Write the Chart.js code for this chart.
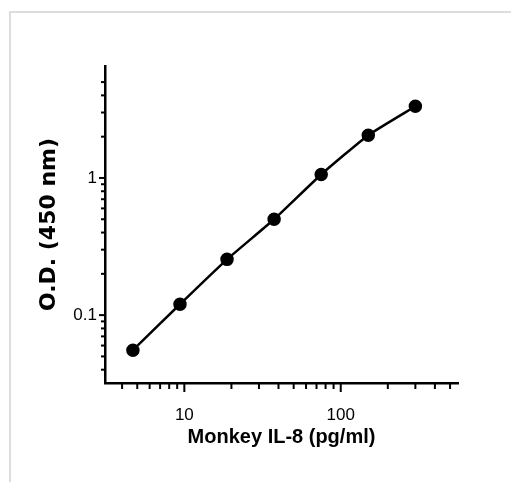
<!DOCTYPE html>
<html>
<head>
  <title>Monkey IL-8 standard curve</title>
  <script src="https://cdn.jsdelivr.net/npm/chart.js"></script>
  <style>
    html, body { margin: 0; padding: 0; background: #fff; overflow: hidden; }
    .frame {
      position: absolute; left: 9px; top: 11px; width: 520px; height: 490px;
      border-top: 2px solid #dddddd; border-left: 2px solid #dddddd;
    }
    #curve { position: absolute; left: 0; top: 0; }
  </style>
</head>
<body>
  <div class="frame"></div>
  <canvas id="curve" width="511" height="482"></canvas>

  <script>
    // standard curve
    const concentrations = [4.69, 9.38, 18.75, 37.5, 75, 150, 300];
    const odValues = [0.0555, 0.120, 0.255, 0.50, 1.06, 2.05, 3.33];

    // log axis tick marks, labelled ones are kept separately
    const xTicks = [4, 5, 6, 7, 8, 9, 10, 20, 30, 40, 50, 60, 70, 80, 90, 100, 200, 300, 400, 500];
    const xLabels = [10, 100];
    const yTicks = [0.04, 0.05, 0.06, 0.07, 0.08, 0.09, 0.1, 0.2, 0.3, 0.4, 0.5, 0.6, 0.7, 0.8, 0.9, 1, 2, 3, 4, 5];
    const yLabels = [0.1, 1];

    const narrow = '"Liberation Sans Narrow", "Arial Narrow", "Liberation Sans", sans-serif';

    // short ticks everywhere, slightly longer at the labelled decades
    const tickMarks = {
      id: 'tickMarks',
      afterDraw(chart) {
        const c = chart.ctx, area = chart.chartArea;
        c.save();
        c.strokeStyle = '#000';
        c.lineWidth = 2;
        chart.scales.x.ticks.forEach(t => {
          const px = chart.scales.x.getPixelForValue(t.value);
          const len = xLabels.includes(t.value) ? 9 : 6;
          c.beginPath();
          c.moveTo(px, area.bottom);
          c.lineTo(px, area.bottom + len);
          c.stroke();
        });
        chart.scales.y.ticks.forEach(t => {
          const py = chart.scales.y.getPixelForValue(t.value);
          const len = yLabels.includes(t.value) ? 6 : 4;
          c.beginPath();
          c.moveTo(area.left, py);
          c.lineTo(area.left - len, py);
          c.stroke();
        });
        c.restore();
      }
    };

    new Chart(document.getElementById('curve').getContext('2d'), {
      type: 'line',
      data: {
        datasets: [{
          data: concentrations.map((x, i) => ({ x: x, y: odValues[i] })),
          borderColor: '#000',
          backgroundColor: '#000',
          borderWidth: 2.5,
          pointRadius: 5.5,
          pointHoverRadius: 5.5,
          tension: 0.15,
          fill: false
        }]
      },
      options: {
        responsive: false,
        animation: false,
        devicePixelRatio: 1,
        layout: { padding: { top: 66, right: 53, bottom: 0, left: 0 } },
        plugins: { legend: { display: false }, tooltip: { enabled: false } },
        scales: {
          x: {
            type: 'logarithmic',
            min: 3.11,
            max: 562,
            afterBuildTicks: s => { s.ticks = xTicks.map(v => ({ value: v })); },
            afterFit: s => { s.height = 99; },
            grid: { display: true, drawOnChartArea: false, drawTicks: false },
            border: { color: '#000', width: 2.5 },
            ticks: {
              autoSkip: false,
              maxRotation: 0,
              padding: 22,
              color: '#000',
              font: { family: narrow, size: 17 },
              callback: v => xLabels.includes(v) ? String(v) : ''
            },
            title: {
              display: true,
              text: 'Monkey IL-8 (pg/ml)',
              color: '#000',
              font: { family: narrow, size: 20, weight: 'bold' },
              padding: { top: 0, bottom: 33 }
            }
          },
          y: {
            type: 'logarithmic',
            min: 0.032,
            max: 6.55,
            afterBuildTicks: s => { s.ticks = yTicks.map(v => ({ value: v })); },
            afterFit: s => { s.width = 105; },
            grid: { display: true, drawOnChartArea: false, drawTicks: false },
            border: { color: '#000', width: 2.5 },
            ticks: {
              autoSkip: false,
              padding: 8,
              color: '#000',
              font: { family: narrow, size: 17 },
              callback: v => yLabels.includes(v) ? String(v) : ''
            },
            title: {
              display: true,
              text: 'O.D. (450 nm)',
              color: '#000',
              font: { family: '"DejaVu Sans", sans-serif', size: 22, weight: 'bold' },
              padding: { top: 36, bottom: 0 }
            }
          }
        }
      },
      plugins: [tickMarks]
    });
  </script>
</body>
</html>
